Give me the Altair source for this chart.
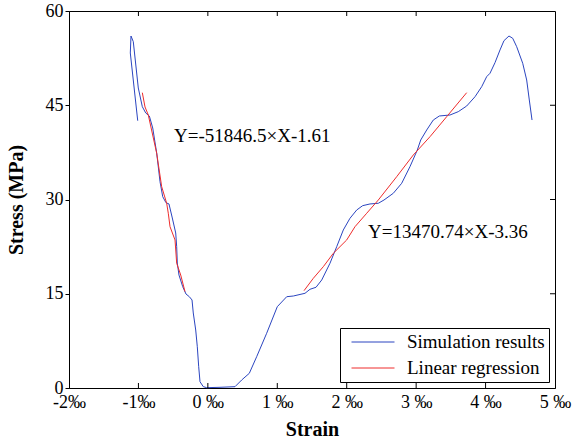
import altair as alt
import pandas as pd

# ---- data (strain in ‰, stress in MPa) ----
sim_x = [-1.010, -1.117, -1.107, -1.074, -1.002, -0.944, -0.895, -0.843, -0.794, -0.737,
         -0.689, -0.650, -0.603, -0.560, -0.512, -0.463, -0.449, -0.440, -0.416, -0.362,
         -0.315, -0.267, -0.228, -0.210, -0.175, -0.152, -0.132, -0.113, -0.066, -0.017,
         0.175, 0.391, 0.487, 0.597, 0.703, 0.847, 1.000, 1.136, 1.231, 1.399,
         1.471, 1.558, 1.640, 1.759, 1.856, 1.951, 2.047, 2.144, 2.230, 2.335,
         2.455, 2.537, 2.671, 2.792, 2.911, 3.017, 3.066, 3.152, 3.247, 3.334,
         3.488, 3.607, 3.728, 3.848, 3.944, 4.016, 4.064, 4.136, 4.208, 4.265,
         4.337, 4.391, 4.448, 4.535, 4.592, 4.630, 4.669]
sim_y = [42.54, 53.32, 56.02, 55.12, 47.75, 44.77, 43.77, 43.29, 41.38, 37.40,
         32.83, 30.45, 29.49, 29.29, 27.06, 24.67, 22.49, 19.89, 17.98, 16.12,
         14.96, 14.53, 14.01, 11.94, 9.23, 6.57, 3.39, 1.00, 0.21, 0.05,
         0.11, 0.21, 1.27, 2.34, 4.98, 8.71, 12.94, 14.53, 14.64, 15.07,
         15.71, 16.03, 17.19, 19.85, 22.49, 25.15, 27.01, 28.33, 29.02, 29.29,
         29.40, 29.92, 30.99, 32.58, 35.22, 37.88, 39.47, 41.06, 42.65, 43.29,
         43.45, 43.98, 44.88, 46.36, 47.95, 49.55, 50.09, 51.78, 53.80, 55.28,
         56.02, 55.66, 54.32, 51.68, 49.02, 45.84, 42.65]

reg1_x = [-0.944, -0.905, -0.858, -0.737, -0.665, -0.593, -0.570, -0.545, -0.473, -0.449, -0.391, -0.329]
reg1_y = [47.00, 44.72, 43.45, 37.35, 32.04, 29.40, 27.81, 25.67, 23.56, 19.85, 17.98, 15.33]

reg2_x = [1.385, 1.519, 1.663, 1.807, 2.000, 2.119, 2.288, 2.455, 2.720, 2.959, 3.200, 3.440, 3.728]
reg2_y = [15.49, 17.46, 19.31, 21.44, 23.56, 25.67, 27.81, 29.92, 33.63, 37.08, 40.00, 43.18, 47.00]

series_names = ["Simulation results", "Linear regression"]
series_colors = ["#2b45c0", "#ee2c2c"]

ann_text = ["Y=-51846.5×X-1.61", "Y=13470.74×X-3.36"]
ann_x = [-0.488, 2.307]
ann_y = [40.1, 24.9]

x_ticks = [-2, -1, 0, 1, 2, 3, 4, 5]
y_ticks = [0, 15, 30, 45, 60]
inner_x_ticks = [-1, 0, 1, 2, 3, 4]
inner_y_ticks = [15, 30, 45]

FONT = "Liberation Serif"
W, H = 486, 377

rows = []
for i, (x, y) in enumerate(zip(sim_x, sim_y)):
    rows.append({"x": x, "y": y, "series": series_names[0], "seg": "s", "i": i})
for i, (x, y) in enumerate(zip(reg1_x, reg1_y)):
    rows.append({"x": x, "y": y, "series": series_names[1], "seg": "r1", "i": i})
for i, (x, y) in enumerate(zip(reg2_x, reg2_y)):
    rows.append({"x": x, "y": y, "series": series_names[1], "seg": "r2", "i": i})
df = pd.DataFrame(rows)

xscale = alt.Scale(domain=[-2, 5], nice=False, zero=False)
yscale = alt.Scale(domain=[0, 60], nice=False)

xaxis = alt.Axis(values=x_ticks, ticks=False, grid=False, title="Strain",
                 labelExpr="datum.value < 0 ? datum.value + '‰' : datum.value + ' ‰'",
                 labelFont=FONT, labelFontSize=18, labelColor="black",
                 titleFont=FONT, titleFontSize=20, titleFontWeight="bold", titleColor="black",
                 domainColor="black",
                 labelPadding=5, titlePadding=8, labelFlush=False)
yaxis = alt.Axis(values=y_ticks, grid=False, title="Stress (MPa)", tickSize=4, tickColor="black",
                 labelFont=FONT, labelFontSize=18, labelColor="black",
                 titleFont=FONT, titleFontSize=20, titleFontWeight="bold", titleColor="black",
                 domainColor="black",
                 labelPadding=2, titlePadding=19, labelFlush=False)

lines = alt.Chart(df).mark_line(strokeWidth=1).encode(
    x=alt.X("x:Q", scale=xscale, axis=xaxis),
    y=alt.Y("y:Q", scale=yscale, axis=yaxis),
    color=alt.Color("series:N", scale=alt.Scale(domain=series_names, range=series_colors),
                    legend=alt.Legend(title=None, orient="bottom-right", offset=6,
                                      strokeColor="black", fillColor="white", padding=4,
                                      labelFont=FONT, labelFontSize=19, labelColor="black",
                                      symbolType="stroke", symbolSize=1849, symbolStrokeWidth=1,
                                      symbolOffset=7, labelOffset=12, rowPadding=6,
                                      clipHeight=20)),
    detail="seg:N",
    order="i:Q",
)

ann_df = pd.DataFrame({"t": ann_text, "x": ann_x, "y": ann_y})
ann = alt.Chart(ann_df).mark_text(align="left", baseline="middle", font=FONT, fontSize=19,
                                  color="black").encode(
    x=alt.X("x:Q", scale=xscale, axis=xaxis), y=alt.Y("y:Q", scale=yscale, axis=yaxis), text="t:N")

tx = pd.DataFrame({"v": inner_x_ticks})
ty = pd.DataFrame({"v": inner_y_ticks})
bottom_ticks = alt.Chart(tx).mark_rule(color="black", strokeWidth=1).encode(
    x=alt.X("v:Q", scale=xscale, axis=xaxis), y=alt.value(H - 5), y2=alt.value(H))
top_ticks = alt.Chart(tx).mark_rule(color="black", strokeWidth=1).encode(
    x=alt.X("v:Q", scale=xscale, axis=xaxis), y=alt.value(0), y2=alt.value(5))
right_ticks = alt.Chart(ty).mark_rule(color="black", strokeWidth=1).encode(
    y=alt.Y("v:Q", scale=yscale, axis=yaxis), x=alt.value(W - 5), x2=alt.value(W))

chart = alt.layer(lines, ann, bottom_ticks, top_ticks, right_ticks).properties(
    width=W, height=H,
    autosize=alt.AutoSizeParams(type="none"),
    padding={"left": 69, "top": 11, "right": 23, "bottom": 59},
).configure(
    background="white", font=FONT
).configure_view(
    stroke="black", strokeWidth=1
)

chart.save("out.html", embed_options={"renderer": "svg", "actions": False})
